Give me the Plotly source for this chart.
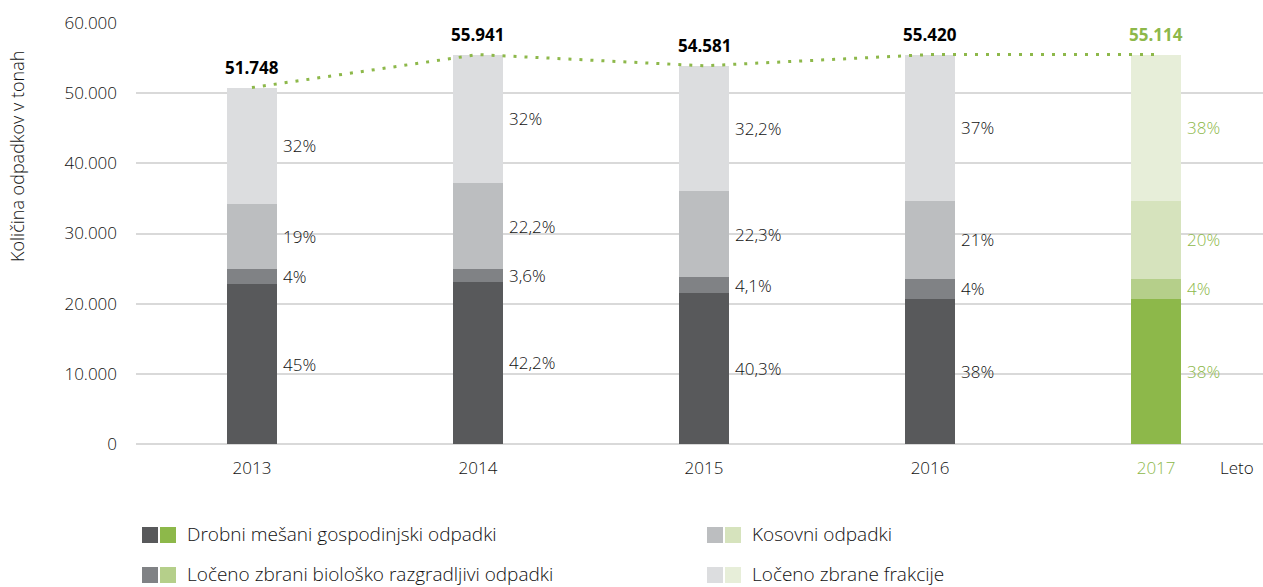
import plotly.graph_objects as go

years = ["2013", "2014", "2015", "2016", "2017"]
series_names = ["Drobni mešani gospodinjski odpadki",
                "Ločeno zbrani biološko razgradljivi odpadki",
                "Kosovni odpadki",
                "Ločeno zbrane frakcije"]
drobni = [22800, 23100, 21500, 20700, 20700]
bio = [2100, 1800, 2300, 2800, 2800]
kosovni = [9300, 12300, 12200, 11200, 11200]
locene = [16600, 18300, 17900, 20800, 20800]
totals_text = ["51.748", "55.941", "54.581", "55.420", "55.114"]
pct_drobni = ["45%", "42,2%", "40,3%", "38%", "38%"]
pct_bio = ["4%", "3,6%", "4,1%", "4%", "4%"]
pct_kosovni = ["19%", "22,2%", "22,3%", "21%", "20%"]
pct_locene = ["32%", "32%", "32,2%", "37%", "38%"]

gray_cols = ["#58595b", "#808285", "#bcbec0", "#dcdddf"]
green_cols = ["#8db84a", "#b5cf8a", "#d6e3bd", "#e7eed9"]
GREEN_TXT = "#8db84a"
TXT = "#231f20"
FONT = "Open Sans"

series = [drobni, bio, kosovni, locene]
pcts = [pct_drobni, pct_bio, pct_kosovni, pct_locene]
idx = list(range(len(years)))

fig = go.Figure()
for i, (name, vals) in enumerate(zip(series_names, series)):
    colors = [gray_cols[i]] * (len(years) - 1) + [green_cols[i]]
    fig.add_trace(go.Bar(x=idx, y=vals, name=name, marker=dict(color=colors, line=dict(width=0)),
                         width=0.221, showlegend=False, hoverinfo="y"))

tops = [sum(s[j] for s in series) for j in idx]
fig.add_trace(go.Scatter(x=idx, y=tops, mode="lines",
                         line=dict(color=GREEN_TXT, width=3, dash="3px,8px"),
                         showlegend=False, hoverinfo="skip"))

annotations = []
# totals
for j in idx:
    annotations.append(dict(x=j, y=tops[j], text="<b>%s</b>" % totals_text[j], showarrow=False,
                            yanchor="bottom", yshift=7,
                            font=dict(family=FONT, size=17, color=GREEN_TXT if j == len(years) - 1 else "#000000")))
# percentages
for i in range(4):
    for j in idx:
        base = sum(series[k][j] for k in range(i))
        mid = base + series[i][j] / 2
        annotations.append(dict(x=j, y=mid, text=pcts[i][j], showarrow=False, xanchor="left",
                                xshift=29, yanchor="middle",
                                font=dict(family=FONT, size=17, weight=300,
                                          color=GREEN_TXT if j == len(years) - 1 else "#111111")))

W, L = 1127, 136
H, T = 421, 23


def px(x):
    return (x - L) / W


def py(y):
    return (T + H - y) / H

annotations.append(dict(xref="paper", yref="paper", x=px(1237), y=py(467), text="Leto", showarrow=False,
                        xanchor="center", yanchor="middle",
                        font=dict(family=FONT, size=17, weight=300, color="#111111")))
annotations.append(dict(xref="paper", yref="paper", x=px(17), y=py(157), text="Količina odpadkov v tonah",
                        showarrow=False, textangle=-90, xanchor="center", yanchor="middle",
                        font=dict(family=FONT, size=18, weight=300, color="#111111")))

shapes = []
legend_pos = [(142, 535), (142, 575), (707, 535), (707, 575)]
for i, (lx, ly) in enumerate(legend_pos):
    shapes.append(dict(type="rect", xref="paper", yref="paper", x0=px(lx), x1=px(lx + 16),
                       y0=py(ly + 8), y1=py(ly - 8), fillcolor=gray_cols[i], line=dict(width=0)))
    shapes.append(dict(type="rect", xref="paper", yref="paper", x0=px(lx + 18), x1=px(lx + 34),
                       y0=py(ly + 8), y1=py(ly - 8), fillcolor=green_cols[i], line=dict(width=0)))
    annotations.append(dict(xref="paper", yref="paper", x=px(lx + 43), y=py(ly - 1), xanchor="left",
                            yanchor="middle", text=series_names[i], showarrow=False,
                            font=dict(family=FONT, size=19, weight=300, color="#111111")))

ticktext = years[:-1] + ['<span style="color:%s">%s</span>' % (GREEN_TXT, years[-1])]

fig.update_layout(
    barmode="stack",
    width=1263, height=587,
    margin=dict(l=L, r=0, t=T, b=587 - T - H),
    plot_bgcolor="white", paper_bgcolor="white",
    separators=",.",
    font=dict(family=FONT, color=TXT),
    annotations=annotations,
    shapes=shapes,
    xaxis=dict(range=[-0.513, 4.473], tickvals=idx, ticktext=ticktext,
               showgrid=False, showline=False, zeroline=False, ticks="", ticklabelstandoff=12,
               tickfont=dict(family=FONT, size=17, weight=300, color="#111111")),
    yaxis=dict(range=[0, 60000], dtick=10000, tickformat=",d", showgrid=True, gridcolor="#d9d9d9",
               gridwidth=2, zeroline=True, zerolinecolor="#d9d9d9", zerolinewidth=2, showline=False,
               ticks="", ticklabelstandoff=18,
               tickfont=dict(family=FONT, size=17, weight=300, color="#111111")),
)

fig.write_html("out.html", config={"displayModeBar": False},
               post_script="document.body.style.margin='0px';")
